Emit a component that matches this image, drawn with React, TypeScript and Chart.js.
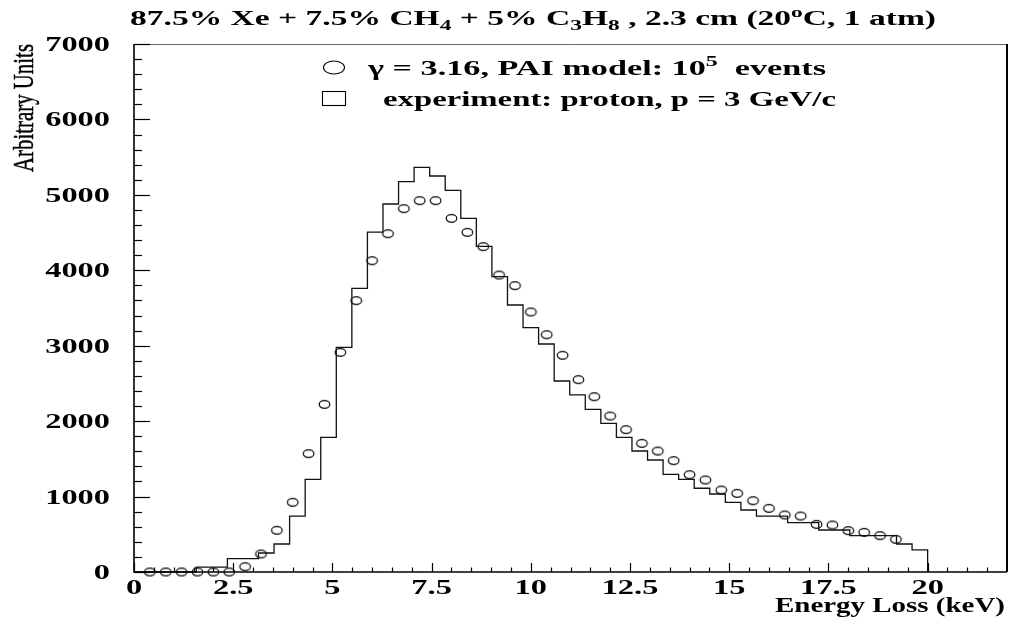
import { useEffect, useRef } from "react";
import { Chart, registerables } from "chart.js";

Chart.register(...registerables);

// ---------------- data ----------------
const BIN_COUNT = 51;
const E_MAX = 20; // keV, upper edge of the experimental histogram
// experiment: proton, p = 3 GeV/c (counts per bin, 51 bins from 0 to 20 keV)
const expCounts = [
  0, 0, 0, 0, 65, 65, 177, 177, 252, 371,
  742, 1229, 1786, 2979, 3761, 4507, 4879, 5175, 5365, 5250,
  5060, 4689, 4318, 3915, 3540, 3239, 3023, 2532, 2347, 2157,
  1971, 1786, 1604, 1485, 1295, 1229, 1110, 1034, 924, 822,
  742, 742, 654, 654, 557, 557, 482, 482, 482, 371,
  292,
];
// PAI model, gamma = 3.16
const modelEnergy = [
  0.4, 0.8, 1.2, 1.6, 2.0, 2.4, 2.8, 3.2, 3.6, 4.0,
  4.4, 4.8, 5.2, 5.6, 6.0, 6.4, 6.8, 7.2, 7.6, 8.0,
  8.4, 8.8, 9.2, 9.6, 10.0, 10.4, 10.8, 11.2, 11.6, 12.0,
  12.4, 12.8, 13.2, 13.6, 14.0, 14.4, 14.8, 15.2, 15.6, 16.0,
  16.4, 16.8, 17.2, 17.6, 18.0, 18.4, 18.8, 19.2,
];
const modelCounts = [
  0, 0, 0, 0, 0, 0, 70, 239, 553, 924,
  1569, 2223, 2912, 3597, 4127, 4485, 4817, 4923, 4923, 4689,
  4503, 4313, 3937, 3796, 3447, 3146, 2873, 2550, 2324, 2068,
  1887, 1706, 1604, 1476, 1290, 1220, 1087, 1043, 945, 844,
  756, 742, 632, 623, 548, 526, 482, 433,
];
const xTickValues = [0, 2.5, 5, 7.5, 10, 12.5, 15, 17.5, 20];
const xTickLabels = ["0", "2.5", "5", "7.5", "10", "12.5", "15", "17.5", "20"];
const yTickValues = [0, 1000, 2000, 3000, 4000, 5000, 6000, 7000];
const yTickLabels = ["0", "1000", "2000", "3000", "4000", "5000", "6000", "7000"];
const X_MIN = 0;
const X_MAX = 22;
const Y_MIN = 0;
const Y_MAX = 7000;

// ---------------- helpers ----------------
type Seg = { text: string; size: number; dy?: number; weight?: string };
const FAMILY = '"Liberation Serif", "Times New Roman", serif';

function measure(ctx: CanvasRenderingContext2D, segs: Seg[]) {
  let total = 0;
  const widths = segs.map((s) => {
    ctx.font = `${s.weight ?? "bold"} ${s.size}px ${FAMILY}`;
    const w = ctx.measureText(s.text).width;
    total += w;
    return w;
  });
  return { total, widths };
}

function drawRich(
  ctx: CanvasRenderingContext2D,
  segs: Seg[],
  x: number,
  y: number,
  opts: { sx?: number; fitWidth?: number; align?: "left" | "right" | "center" }
) {
  const { total, widths } = measure(ctx, segs);
  const sx = opts.fitWidth ? opts.fitWidth / total : opts.sx ?? 1;
  ctx.save();
  ctx.translate(x, y);
  ctx.scale(sx, 1);
  ctx.textAlign = "left";
  ctx.textBaseline = "alphabetic";
  ctx.fillStyle = "#000";
  let cx = opts.align === "right" ? -total : opts.align === "center" ? -total / 2 : 0;
  segs.forEach((s, i) => {
    ctx.font = `${s.weight ?? "bold"} ${s.size}px ${FAMILY}`;
    ctx.fillText(s.text, cx, s.dy ?? 0);
    cx += widths[i];
  });
  ctx.restore();
}

function makeEllipse(rx: number, ry: number, lw: number) {
  const c = document.createElement("canvas");
  c.width = Math.ceil(rx * 2 + lw * 2 + 2);
  c.height = Math.ceil(ry * 2 + lw * 2 + 2);
  const g = c.getContext("2d")!;
  g.strokeStyle = "#000";
  g.lineWidth = lw;
  g.beginPath();
  g.ellipse(c.width / 2, c.height / 2, rx, ry, 0, 0, Math.PI * 2);
  g.stroke();
  return c;
}

const decorPlugin = {
  id: "rootDecor",
  afterDraw(chart: any) {
    const ctx: CanvasRenderingContext2D = chart.ctx;
    const xs = chart.scales.x;
    const ys = chart.scales.y;
    const { left, right, top, bottom } = chart.chartArea;
    ctx.save();

    // frame
    ctx.strokeStyle = "#666";
    ctx.lineWidth = 1;
    ctx.beginPath();
    ctx.moveTo(left, top + 0.5);
    ctx.lineTo(right, top + 0.5);
    ctx.stroke();
    ctx.strokeStyle = "#000";
    ctx.lineWidth = 2;
    ctx.beginPath();
    ctx.moveTo(right, top);
    ctx.lineTo(right, bottom);
    ctx.stroke();
    ctx.lineWidth = 1.6;
    ctx.beginPath();
    ctx.moveTo(left, top);
    ctx.lineTo(left, bottom);
    ctx.lineTo(right, bottom);
    ctx.stroke();

    // x ticks (inside, upward)
    ctx.lineWidth = 1.2;
    for (let i = 0; i * 0.5 <= X_MAX - 0.01; i++) {
      const v = i * 0.5;
      const px = Math.round(xs.getPixelForValue(v)) + 0.5;
      const major = i % 5 === 0;
      ctx.beginPath();
      ctx.moveTo(px, bottom);
      ctx.lineTo(px, bottom - (major ? 9 : 4.5));
      ctx.stroke();
    }
    // y ticks (inside, rightward)
    for (let i = 0; i * 200 <= Y_MAX; i++) {
      const v = i * 200;
      const py = Math.round(ys.getPixelForValue(v)) + 0.5;
      const major = i % 5 === 0;
      ctx.beginPath();
      ctx.moveTo(left, py);
      ctx.lineTo(left + (major ? 16 : 8), py);
      ctx.stroke();
    }

    // tick labels
    const TS = 1.62;
    xTickValues.forEach((v, i) => {
      drawRich(ctx, [{ text: xTickLabels[i], size: 20 }], xs.getPixelForValue(v), 594, { sx: TS, align: "center" });
    });
    yTickValues.forEach((v, i) => {
      drawRich(ctx, [{ text: yTickLabels[i], size: 20 }], 110, ys.getPixelForValue(v) + 7, { sx: TS, align: "right" });
    });

    // axis titles
    drawRich(ctx, [{ text: "Energy Loss (keV)", size: 20 }], 1005, 612, { fitWidth: 230, align: "right" });

    // rotated y title
    ctx.save();
    ctx.translate(33, 172);
    ctx.rotate(-Math.PI / 2);
    ctx.font = `normal 20.5px ${FAMILY}`;
    const wY = ctx.measureText("Arbitrary Units").width;
    ctx.scale(128 / wY, 1.45);
    ctx.fillStyle = "#000";
    ctx.strokeStyle = "#000";
    ctx.lineWidth = 0.35;
    ctx.textAlign = "left";
    ctx.textBaseline = "alphabetic";
    ctx.fillText("Arbitrary Units", 0, 0);
    ctx.strokeText("Arbitrary Units", 0, 0);
    ctx.restore();

    // title
    drawRich(
      ctx,
      [
        { text: "87.5% Xe + 7.5% CH", size: 20 },
        { text: "4", size: 14, dy: 5 },
        { text: " + 5% C", size: 20 },
        { text: "3", size: 14, dy: 5 },
        { text: "H", size: 20 },
        { text: "8", size: 14, dy: 5 },
        { text: " , 2.3 cm (20", size: 20 },
        { text: "o", size: 14, dy: -8 },
        { text: "C, 1 atm)", size: 20 },
      ],
      130,
      25,
      { fitWidth: 806 }
    );

    // legend
    ctx.strokeStyle = "#000";
    ctx.lineWidth = 1.1;
    ctx.beginPath();
    ctx.ellipse(334, 67.5, 10.5, 6.5, 0, 0, Math.PI * 2);
    ctx.stroke();
    ctx.strokeRect(322.5, 91.5, 23, 14);
    drawRich(
      ctx,
      [
        { text: "\u03b3 = 3.16, PAI model: 10", size: 20 },
        { text: "5", size: 14, dy: -9 },
        { text: "  events", size: 20 },
      ],
      368,
      75,
      { fitWidth: 458 }
    );
    drawRich(ctx, [{ text: "experiment: proton, p = 3 GeV/c", size: 20 }], 383, 106, { fitWidth: 453 });

    ctx.restore();
  },
};

export default function App() {
  const ref = useRef<HTMLCanvasElement | null>(null);
  useEffect(() => {
    if (!ref.current) return;
    const binW = E_MAX / BIN_COUNT;
    const histPoints = expCounts.map((c, i) => ({ x: i * binW, y: c }));
    histPoints.push({ x: E_MAX, y: expCounts[expCounts.length - 1] });
    histPoints.push({ x: E_MAX, y: 0 });
    const modelPoints = modelEnergy.map((e, i) => ({ x: e, y: modelCounts[i] }));
    const marker = makeEllipse(5.3, 3.9, 1.2);

    const chart = new Chart(ref.current, {
      type: "scatter",
      data: {
        datasets: [
          {
            label: "experiment: proton, p = 3 GeV/c",
            data: histPoints,
            showLine: true,
            stepped: "before",
            borderColor: "#111",
            borderWidth: 1.3,
            pointRadius: 0,
            fill: false,
            clip: false,
          } as any,
          {
            label: "PAI model",
            data: modelPoints,
            showLine: false,
            pointStyle: marker as any,
            pointRadius: 5,
            borderColor: "#000",
            backgroundColor: "rgba(0,0,0,0)",
            clip: false,
          } as any,
        ],
      },
      options: {
        animation: false,
        responsive: false,
        devicePixelRatio: 1,
        events: [],
        layout: { padding: { left: 134, top: 44, right: 3, bottom: 54 } },
        scales: {
          x: { type: "linear", min: X_MIN, max: X_MAX, display: false },
          y: { type: "linear", min: Y_MIN, max: Y_MAX, display: false },
        },
        plugins: {
          legend: { display: false },
          tooltip: { enabled: false },
          title: { display: false },
        },
      },
      plugins: [decorPlugin],
    });
    return () => chart.destroy();
  }, []);

  return (
    <div style={{ position: "absolute", left: 0, top: 0, width: 1013, height: 626, background: "#fff" }}>
      <canvas ref={ref} width={1013} height={626} style={{ display: "block", width: 1013, height: 626 }} />
    </div>
  );
}
